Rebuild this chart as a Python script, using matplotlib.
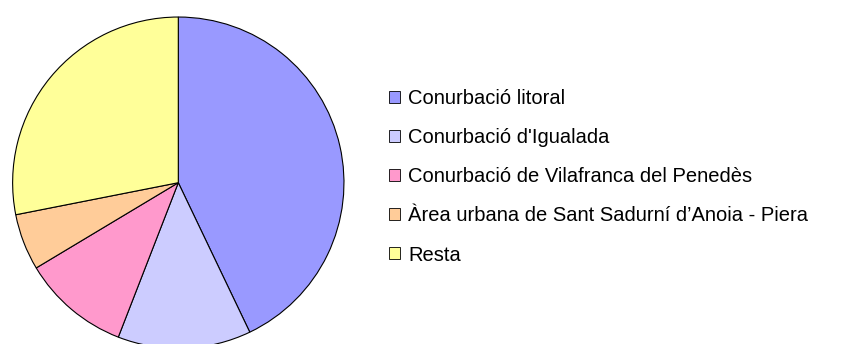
import matplotlib
matplotlib.use("Agg")
import matplotlib.pyplot as plt
from matplotlib.patches import Patch

plt.rcParams["font.family"] = ["Liberation Sans", "DejaVu Sans"]

labels = [
    "Conurbació litoral",
    "Conurbació d'Igualada",
    "Conurbació de Vilafranca del Penedès",
    "Àrea urbana de Sant Sadurní d’Anoia - Piera",
    "Resta",
]
shares = [42.9, 13.0, 10.5, 5.5, 28.1]
colors = ["#9999FF", "#CCCCFF", "#FF99CC", "#FFCC99", "#FFFF99"]

W, H, DPI = 841, 344, 100
fig = plt.figure(figsize=(W / DPI, H / DPI), dpi=DPI)

# pie centre ~ (178, 183) px, radius ~166 px
cx, cy, r = 178.3, 182.7, 166.5
ax = fig.add_axes([(cx - r) / W, (H - cy - r) / H, 2 * r / W, 2 * r / H])
ax.pie(
    shares,
    colors=colors,
    startangle=90,
    counterclock=False,
    radius=1.0,
    wedgeprops={"edgecolor": "black", "linewidth": 0.8},
)
ax.set_xlim(-1.005, 1.005)
ax.set_ylim(-1.005, 1.005)
ax.set_aspect("equal")
ax.axis("off")

handles = [Patch(facecolor=c, edgecolor="black", linewidth=0.6) for c in colors]
fig.legend(
    handles,
    labels,
    loc="upper left",
    bbox_to_anchor=(389 / W, 1 - 89 / H),
    frameon=False,
    fontsize=14.5,
    handlelength=0.55,
    handleheight=0.55,
    handletextpad=0.4,
    labelspacing=1.0,
    borderpad=0,
    borderaxespad=0,
)

fig.savefig("out.png", dpi=DPI)
